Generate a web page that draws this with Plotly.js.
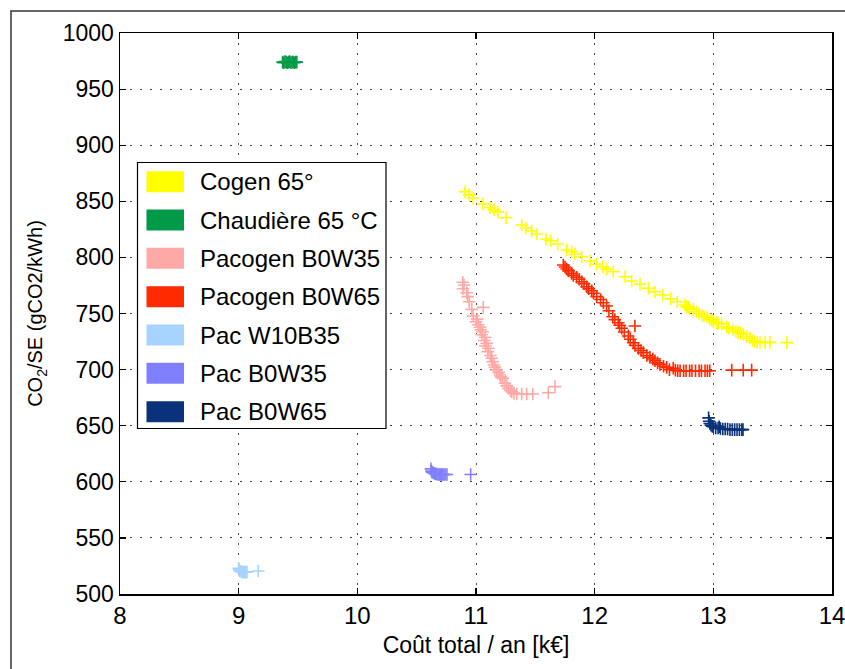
<!DOCTYPE html>
<html>
<head>
<meta charset="utf-8">
<script src="https://cdn.plot.ly/plotly-3.0.1.min.js"></script>
<style>html,body{margin:0;padding:0;background:#fff;}#chart{width:845px;height:669px;}</style>
</head>
<body>
<div id="chart"></div>
<script>
// ---- Data ----
const seriesNames = ["Cogen 65°", "Chaudière 65 °C", "Pacogen B0W35", "Pacogen B0W65", "Pac W10B35", "Pac B0W35", "Pac B0W65"];
const seriesColors = ["#ffff00", "#009a48", "#ffa9a6", "#ff2a00", "#a6d3ff", "#8080ff", "#0a327a"];

const cogenX = [10.907,10.943,10.975,11.059,11.118,11.152,11.185,11.253,11.385,11.421,11.469,11.514,11.590,11.629,11.688,11.764,11.806,11.834,11.891,11.961,12.017,12.068,12.101,12.157,12.256,12.312,12.382,12.452,12.508,12.573,12.641,12.696,12.761,12.775,12.831,12.860,12.902,12.949,12.986,13.028,13.070,13.112,13.168,13.210,13.252,13.309,13.351,13.393,13.435,13.477,13.618,12.79,12.80,12.88,12.92,12.97,13.0,13.04,13.13,13.19,13.23,13.28,13.33,13.37];
const cogenY = [858.6,855.7,852.7,847.7,844.4,842.4,840.6,835.4,828.9,826.2,823.5,820.9,816.4,814.9,812.0,806.6,805.1,803.0,800.6,796.8,793.9,791.7,789.7,787.3,782.8,779.0,776.3,772.5,769.4,766.5,763.2,760.5,757.6,756.1,753.7,751.6,748.7,746.6,744.2,741.8,740.6,738.2,735.3,733.2,731.5,727.9,724.9,724.3,724.3,724.3,724.0,755.5,754.0,750.0,747.5,745.0,743.0,741.0,737.0,734.0,732.5,729.5,726.0,724.3];

const chaudX = [9.37,9.38,9.39,9.40,9.41,9.42,9.43,9.44,9.45,9.46,9.47,9.48,9.49];
const chaudY = [974,973.5,974.5,974,973.5,974,974.5,973.5,974,974,973.5,974,974];

const pacoB35X = [10.888,10.899,10.922,10.943,10.964,11.061,10.977,11.000,11.034,11.056,11.076,11.090,11.104,11.132,11.152,11.174,11.202,11.225,11.244,11.272,11.301,11.343,11.385,11.427,11.478,11.609,11.666,10.89,10.93,11.01,11.02,11.04,11.05,11.07,11.08,11.10,11.12,11.14,11.16,11.19,11.21,11.26,11.29,11.32];
const pacoB35Y = [777.8,775.4,768.5,760.5,753.7,755.5,747.8,742.7,737.7,733.8,728.8,723.4,719.0,710.1,704.1,699.6,695.2,692.2,687.8,683.3,680.3,678.3,678.3,678.3,678.3,679.4,684.8,772.0,765.0,745.0,740.0,735.5,731.0,726.0,721.0,716.0,712.5,707.0,702.0,697.5,693.5,685.5,681.5,679.0];

const pacoB65X = [11.736,11.764,11.806,11.848,11.891,11.933,11.975,12.017,12.073,12.101,12.152,12.199,12.228,12.283,12.325,12.368,12.410,12.466,12.508,12.550,12.607,12.662,12.70,12.75,12.80,12.85,12.90,12.95,12.97,13.155,13.252,13.323,12.339,11.75,11.78,11.82,11.87,11.91,11.95,11.99,12.05,12.12,12.17,12.21,12.25,12.30,12.34,12.39,12.44,12.49,12.53,12.58,12.63,12.68,12.72,12.77,12.82,12.88,12.93];
const pacoB65Y = [793.2,789.7,785.8,782.3,778.3,773.9,770.3,765.0,759.6,756.7,747.1,741.8,736.8,729.9,723.9,718.9,715.1,710.9,707.9,704.7,702.0,701.2,699.0,699.0,699.0,699.0,699.0,699.0,699.0,699.5,699.5,699.5,738.9,791.5,788.0,784.0,780.5,776.5,772.0,768.0,762.5,752.5,744.5,739.5,733.5,727.0,721.5,717.0,712.5,709.5,706.0,703.0,700.0,699.5,699.0,699.0,699.0,699.0,699.0];

const pacW10X = [9.00,9.005,9.01,9.02,9.03,9.04,9.05,9.06,9.07,9.165];
const pacW10Y = [523,521.5,520.5,520,519.5,519.5,519.5,519.5,519.5,520.5];

const pacB35X = [10.62,10.625,10.63,10.64,10.65,10.66,10.67,10.68,10.69,10.70,10.71,10.72,10.73,10.74,10.755,10.955];
const pacB35Y = [611.5,609.5,608.5,608,607.5,607,607,606.5,606.5,606.5,606.5,606.5,606.5,606.5,606.5,606.5];

const pacB65X = [12.96,12.965,12.97,12.98,12.99,13.00,13.02,13.04,13.05,13.06,13.08,13.10,13.12,13.14,13.16,13.18,13.20,13.22,13.24,13.25];
const pacB65Y = [657,654,652,650.5,649.5,649,648,648,649,647.5,647,647,647,646.5,646.5,646.5,646.5,646.5,646.5,646.5];

const xTicks = [8,9,10,11,12,13,14];
const yTicks = [500,550,600,650,700,750,800,850,900,950,1000];
const xTitle = "Coût total / an [k€]";
const yTitle = "CO<sub>2</sub>/SE (gCO2/kWh)";

// ---- Build traces ----
const seriesX = [cogenX, chaudX, pacoB35X, pacoB65X, pacW10X, pacB35X, pacB65X];
const seriesY = [cogenY, chaudY, pacoB35Y, pacoB65Y, pacW10Y, pacB35Y, pacB65Y];
const traces = seriesNames.map((n, i) => ({
  type: "scatter", mode: "markers", name: n,
  x: seriesX[i], y: seriesY[i],
  marker: {symbol: "cross-thin-open", size: 9, color: seriesColors[i], line: {color: seriesColors[i], width: 1.6}},
  showlegend: false, hoverinfo: "skip"
}));

// ---- Custom legend (coloured boxes) ----
const plotL = 120, plotW = 712, plotT = 33, plotH = 561;
const px2x = p => (p - plotL) / plotW;
const py2y = p => 1 - (p - plotT) / plotH;
const shapes = [];
const annotations = [];
// outer frame
shapes.push({type: "rect", xref: "paper", yref: "paper", x0: px2x(11), x1: px2x(900), y0: py2y(720), y1: py2y(11), line: {color: "#333", width: 1.5}, fillcolor: "rgba(0,0,0,0)", layer: "below"});
// legend box
shapes.push({type: "rect", xref: "paper", yref: "paper", x0: px2x(137.5), x1: px2x(386), y0: py2y(428.5), y1: py2y(162.5), line: {color: "#000", width: 1.2}, fillcolor: "#fff", layer: "above"});
seriesNames.forEach((n, i) => {
  const cy = 181.7 + i * 38.33;
  shapes.push({type: "rect", xref: "paper", yref: "paper", x0: px2x(146.5), x1: px2x(184), y0: py2y(cy + 10.5), y1: py2y(cy - 10.5), line: {width: 0}, fillcolor: seriesColors[i], layer: "above"});
  annotations.push({xref: "paper", yref: "paper", x: px2x(198), y: py2y(cy), xanchor: "left", yanchor: "middle", text: n, showarrow: false, font: {family: "Liberation Sans, Arial, sans-serif", size: 24, color: "#000"}});
});

const gridDash = "1.5px,8.5px";
const layout = {
  width: 845, height: 669,
  margin: {l: plotL, r: 845 - plotL - plotW, t: plotT, b: 669 - plotT - plotH},
  paper_bgcolor: "#fff", plot_bgcolor: "#fff",
  font: {family: "Liberation Sans, Arial, sans-serif", color: "#000"},
  xaxis: {
    range: [8, 14], tickvals: xTicks, ticktext: xTicks.map(String),
    showgrid: true, gridcolor: "#444", gridwidth: 1, griddash: gridDash,
    zeroline: false, showline: true, linecolor: "#000", linewidth: 1.5, mirror: "ticks",
    ticks: "inside", ticklen: 6, tickcolor: "#000", tickwidth: 1.2,
    ticklabeloverflow: "allow",
    tickfont: {size: 24}, title: {text: xTitle, font: {size: 23}, standoff: 8}
  },
  yaxis: {
    range: [500, 1000], tickvals: yTicks, ticktext: yTicks.map(String),
    showgrid: true, gridcolor: "#444", gridwidth: 1, griddash: gridDash,
    zeroline: false, showline: true, linecolor: "#000", linewidth: 1.5, mirror: "ticks",
    ticks: "inside", ticklen: 6, tickcolor: "#000", tickwidth: 1.2,
    ticklabeloverflow: "allow",
    tickfont: {size: 23}, title: {text: yTitle, font: {size: 20}, standoff: 14}
  },
  shapes: shapes,
  annotations: annotations,
  showlegend: false
};

Plotly.newPlot("chart", traces, layout, {displayModeBar: false, staticPlot: true});
</script>
</body>
</html>
